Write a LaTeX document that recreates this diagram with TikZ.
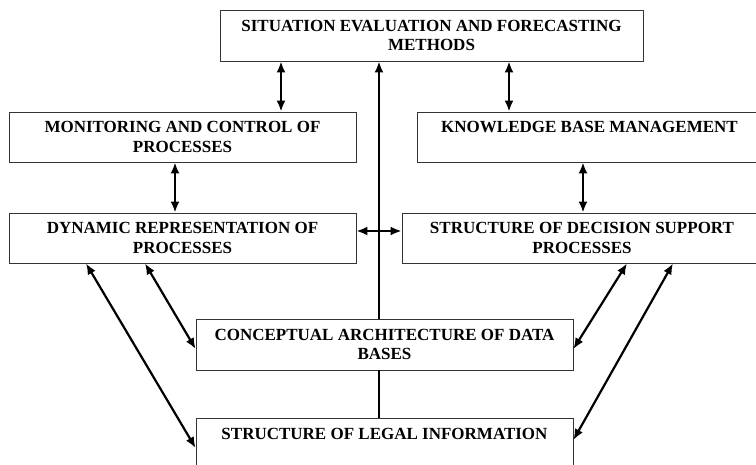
\documentclass[tikz,border=0pt]{standalone}
\usepackage{fontspec}
\setmainfont{Liberation Serif}
\usetikzlibrary{positioning, arrows.meta}
\definecolor{frameline}{HTML}{333333}

\begin{document}
\begin{tikzpicture}[x=1pt, y=-1pt, >={Latex[length=11pt,width=9pt]},
        box/.style={draw=frameline, line width=0.8pt, fill=white, inner sep=0pt, align=center,
                    minimum height=51pt, font=\bfseries\fontsize{17}{19.5}\selectfont},
        duplex/.style={line width=2.2pt, <->},
        simplex/.style={line width=2.2pt, ->}
    ]
      \useasboundingbox (0,0) rectangle (756,465);
      % Forecasting block on top
      \node[box, minimum width=423pt] (eval) at (431.5,35.5)
           {SITUATION EVALUATION AND FORECASTING\\METHODS};
      % Second row
      \node[box, minimum width=347pt, minimum height=50pt] (monitor) at (182.5,137)
           {MONITORING AND CONTROL OF\\PROCESSES};
      \node[box, minimum width=345pt, minimum height=50pt] (knowledge) at (589.5,137)
           {KNOWLEDGE BASE MANAGEMENT\\~};
      % Third row
      \node[box, minimum width=347pt, minimum height=50pt] (dynamic) at (182.5,238)
           {DYNAMIC REPRESENTATION OF\\PROCESSES};
      \node[box, minimum width=360pt, minimum height=50pt] (decision) at (582,238)
           {STRUCTURE OF DECISION SUPPORT\\PROCESSES};
      % Data blocks below
      \node[box, minimum width=377pt] (concept) at (384.5,344.5)
           {CONCEPTUAL ARCHITECTURE OF DATA\\BASES};
      \node[box, minimum width=377pt] (legal) at (384.5,443.5)
           {STRUCTURE OF LEGAL INFORMATION\\~};

      % Vertical links
      \draw[duplex] ([xshift=-150.5pt]eval.south) -- ([xshift=98.5pt]monitor.north);
      \draw[duplex] ([xshift=77.5pt]eval.south) -- ([xshift=-80.5pt]knowledge.north);
      \draw[duplex] ([xshift=-7.5pt]monitor.south) -- ([xshift=-7.5pt]dynamic.north);
      \draw[duplex] ([xshift=-6.5pt]knowledge.south) -- ([xshift=1pt]decision.north);
      \draw[line width=2.2pt] ([xshift=-5.5pt]legal.north) -- ([xshift=-5.5pt]concept.south);
      \draw[simplex] ([xshift=-5.5pt]concept.north) -- ([xshift=-52.5pt]eval.south);
      % Horizontal link
      \draw[duplex] ([yshift=7pt]dynamic.east) -- ([yshift=7pt]decision.west);
      % Diagonal links
      \draw[duplex] ([xshift=-96.5pt]dynamic.south) -- ([yshift=-4.5pt]legal.west);
      \draw[duplex] ([xshift=-37.5pt]dynamic.south) -- ([yshift=-4.5pt]concept.west);
      \draw[duplex] ([xshift=45pt]decision.south) -- ([yshift=-4.5pt]concept.east);
      \draw[duplex] ([xshift=91pt]decision.south) -- ([yshift=3.5pt]legal.east);
    \end{tikzpicture}
\end{document}
